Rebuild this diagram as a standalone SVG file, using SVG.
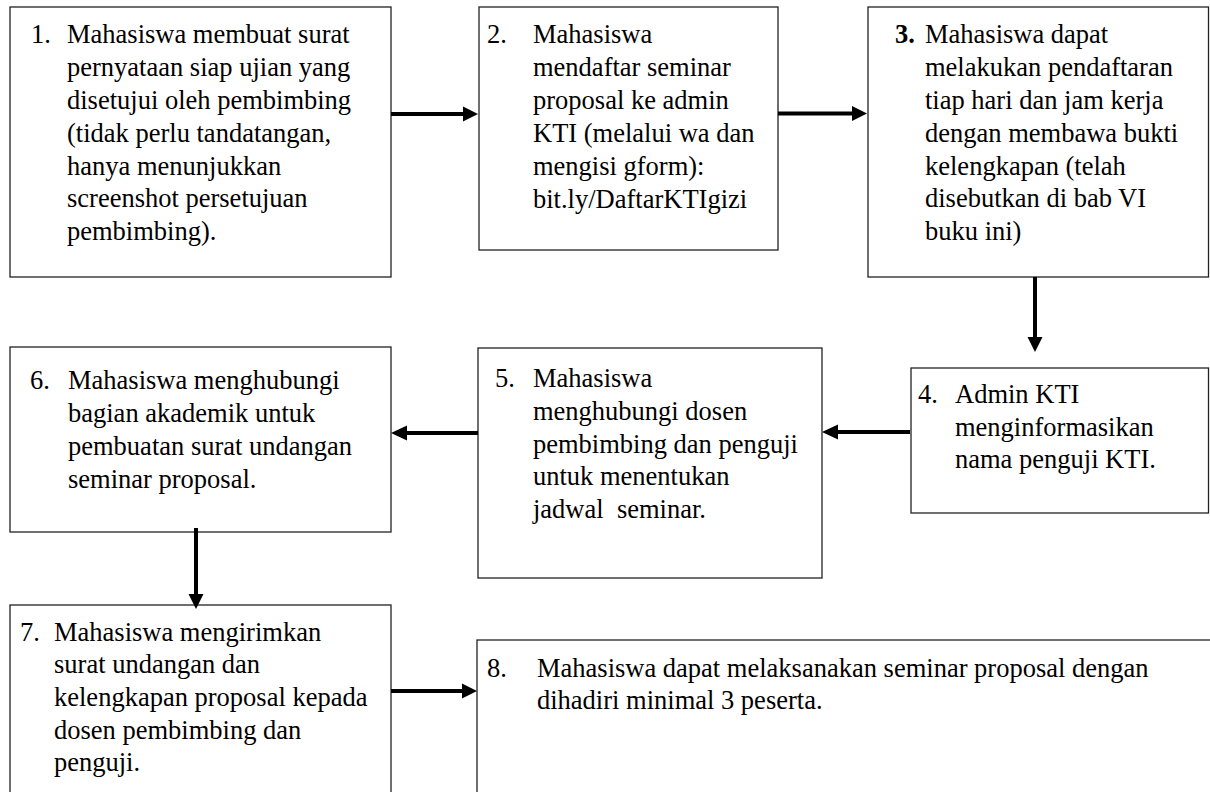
<svg xmlns="http://www.w3.org/2000/svg" width="1210" height="792" viewBox="0 0 1210 792">
<style>
.box{fill:#fff;stroke:#222;stroke-width:1.3}
.t{font-family:"Liberation Serif","Times New Roman",serif;font-size:26.5px;fill:#000}
.b{font-weight:bold}
.ln{stroke:#000;stroke-width:4;fill:none}
.ah{fill:#000}
</style>
<rect width="1210" height="792" fill="#fff"/>
<g id="node1">
<rect class="box" x="10" y="7" width="381" height="270"/>
<text class="t" x="31" y="43">1.</text>
<text class="t" x="67" y="43">Mahasiswa membuat surat</text>
<text class="t" x="67" y="76">pernyataan siap ujian yang</text>
<text class="t" x="67" y="109">disetujui oleh pembimbing</text>
<text class="t" x="67" y="142">(tidak perlu tandatangan,</text>
<text class="t" x="67" y="175">hanya menunjukkan</text>
<text class="t" x="67" y="207">screenshot persetujuan</text>
<text class="t" x="67" y="240">pembimbing).</text>
</g>
<g id="node2">
<rect class="box" x="479" y="7" width="299" height="243"/>
<text class="t" x="487" y="43">2.</text>
<text class="t" x="533" y="43">Mahasiswa</text>
<text class="t" x="533" y="76">mendaftar seminar</text>
<text class="t" x="533" y="109">proposal ke admin</text>
<text class="t" x="533" y="142">KTI (melalui wa dan</text>
<text class="t" x="533" y="175">mengisi gform):</text>
<text class="t" x="533" y="208">bit.ly/DaftarKTIgizi</text>
</g>
<g id="node3">
<rect class="box" x="868" y="7" width="340.5" height="270"/>
<text class="t b" x="895" y="43">3.</text>
<text class="t" x="925" y="43">Mahasiswa dapat</text>
<text class="t" x="925" y="76">melakukan pendaftaran</text>
<text class="t" x="925" y="109">tiap hari dan jam kerja</text>
<text class="t" x="925" y="142">dengan membawa bukti</text>
<text class="t" x="925" y="175">kelengkapan (telah</text>
<text class="t" x="925" y="207">disebutkan di bab VI</text>
<text class="t" x="925" y="240">buku ini)</text>
</g>
<g id="node4">
<rect class="box" x="911" y="368" width="297.5" height="145"/>
<text class="t" x="918" y="403">4.</text>
<text class="t" x="955" y="403">Admin KTI</text>
<text class="t" x="955" y="436">menginformasikan</text>
<text class="t" x="955" y="468">nama penguji KTI.</text>
</g>
<g id="node5">
<rect class="box" x="478" y="348" width="344" height="230"/>
<text class="t" x="495" y="387">5.</text>
<text class="t" x="533" y="387">Mahasiswa</text>
<text class="t" x="533" y="420">menghubungi dosen</text>
<text class="t" x="533" y="453">pembimbing dan penguji</text>
<text class="t" x="533" y="485">untuk menentukan</text>
<text class="t" x="533" y="518" xml:space="preserve">jadwal  seminar.</text>
</g>
<g id="node6">
<rect class="box" x="10" y="347" width="381" height="185"/>
<text class="t" x="30" y="389">6.</text>
<text class="t" x="68" y="389">Mahasiswa menghubungi</text>
<text class="t" x="68" y="422">bagian akademik untuk</text>
<text class="t" x="68" y="455">pembuatan surat undangan</text>
<text class="t" x="68" y="488">seminar proposal.</text>
</g>
<g id="node7">
<rect class="box" x="10" y="605" width="381" height="200"/>
<text class="t" x="20" y="641">7.</text>
<text class="t" x="54" y="641">Mahasiswa mengirimkan</text>
<text class="t" x="54" y="673">surat undangan dan</text>
<text class="t" x="54" y="706">kelengkapan proposal kepada</text>
<text class="t" x="54" y="739">dosen pembimbing dan</text>
<text class="t" x="54" y="771">penguji.</text>
</g>
<g id="node8">
<rect class="box" x="477" y="640" width="740" height="200"/>
<text class="t" x="487" y="677">8.</text>
<text class="t" x="537" y="677">Mahasiswa dapat melaksanakan seminar proposal dengan</text>
<text class="t" x="537" y="709">dihadiri minimal 3 peserta.</text>
</g>
<g id="connectors">
<line class="ln" x1="391" y1="114" x2="464" y2="114"/>
<polygon class="ah" points="463,106.5 478,114 463,121.5"/>
<line class="ln" x1="778" y1="113.5" x2="853" y2="113.5"/>
<polygon class="ah" points="852,106 867,113.5 852,121"/>
<line class="ln" x1="1035" y1="277" x2="1035" y2="338"/>
<polygon class="ah" points="1027.5,337 1035,352 1042.5,337"/>
<line class="ln" x1="910" y1="432" x2="837" y2="432"/>
<polygon class="ah" points="838,424.5 822,432 838,439.5"/>
<line class="ln" x1="478" y1="433" x2="406" y2="433"/>
<polygon class="ah" points="407,425.5 391,433 407,440.5"/>
<line class="ln" x1="196" y1="528" x2="196" y2="595"/>
<polygon class="ah" points="188.5,594 196,609 203.5,594"/>
<line class="ln" x1="391" y1="691" x2="463" y2="691"/>
<polygon class="ah" points="462,683.5 477,691 462,698.5"/>
</g>
</svg>
